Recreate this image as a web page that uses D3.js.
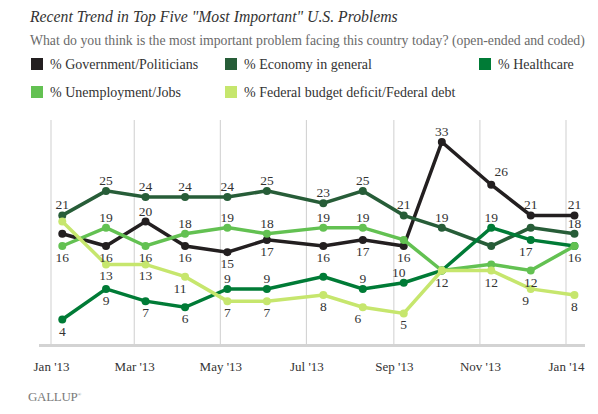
<!DOCTYPE html>
<html>
<head>
<meta charset="utf-8">
<script src="https://cdn.jsdelivr.net/npm/d3@7"></script>
<style>
  html, body { margin: 0; padding: 0; background: #fff; }
  svg { display: block; }
  svg text { font-family: "Liberation Serif", "DejaVu Serif", serif; }
</style>
</head>
<body>
<svg id="chart" width="598" height="414"></svg>
<script>
// ---------- data ----------
const pollDates = ["2013-01-09","2013-02-09","2013-03-09","2013-04-06","2013-05-06","2013-06-03","2013-07-13","2013-08-10","2013-09-08","2013-10-05","2013-11-09","2013-12-07","2014-01-07"];
const seriesNames = ["% Government/Politicians","% Economy in general","% Healthcare","% Unemployment/Jobs","% Federal budget deficit/Federal debt"];
const government   = [18,16,20,16,15,17,16,17,16,33,26,21,21];
const economy      = [21,25,24,24,24,25,23,25,21,19,16,19,18];
const healthcare   = [4,9,7,6,9,9,11,9,10,12,19,17,16];
const unemployment = [16,19,16,18,19,18,19,19,17,12,13,12,16];
const deficit      = [20,13,13,11,7,7,8,6,5,12,12,9,8];
// label placement codes: a = above, b = below, ar = above-right, al/bl = left-shifted, "" = none
const govLabels    = ["","b","a","b","b","b","b","b","b","a","ar","a","a"];
const econLabels   = ["a","a","a","a","a","a","a","a","a","a","","","a"];
const healthLabels = ["b","b","b","b","a","a","","a","al","","a","bl",""];
const unempLabels  = ["b","a","b","a","a","a","a","a","","","","b","b"];
const deficitLabels= ["","b","b","bl","b","b","b","bl","b","b","b","bl","b"];
const colors = ["#231f20","#275d38","#007b36","#63c152","#c6e66d"];
const title = 'Recent Trend in Top Five "Most Important" U.S. Problems';
const subtitle = "What do you think is the most important problem facing this country today? (open-ended and coded)";

// ---------- setup ----------
const FONT = "'Liberation Serif', 'DejaVu Serif', serif";
const parse = d3.timeParse("%Y-%m-%d");
const dates = pollDates.map(parse);
const series = [
  {name: seriesNames[0], values: government,   labels: govLabels,    color: colors[0]},
  {name: seriesNames[1], values: economy,      labels: econLabels,   color: colors[1]},
  {name: seriesNames[2], values: healthcare,   labels: healthLabels, color: colors[2]},
  {name: seriesNames[3], values: unemployment, labels: unempLabels,  color: colors[3]},
  {name: seriesNames[4], values: deficit,      labels: deficitLabels,color: colors[4]}
];

const svg = d3.select("#chart");
const x = d3.scaleTime().domain([new Date(2013,0,1), new Date(2014,0,1)]).range([51, 566]);
const y = d3.scaleLinear().domain([0, 36]).range([344, 123.5]);

function fitText(sel, target) {
  const node = sel.node();
  let fs = parseFloat(sel.attr("font-size"));
  const w = node.getComputedTextLength();
  if (w > 0) sel.attr("font-size", (fs * target / w).toFixed(2));
}

// title & subtitle
const t = svg.append("text").attr("x", 30).attr("y", 22).attr("font-size", 16)
  .attr("font-family", FONT).attr("font-style", "italic").attr("fill", "#333").text(title);
fitText(t, 368);
const st = svg.append("text").attr("x", 30).attr("y", 45).attr("font-size", 13)
  .attr("font-family", FONT).attr("fill", "#6a6a6a").text(subtitle);
fitText(st, 555);

// legend
const legPos = [[31,64],[225,64],[479,64],[31,92],[225,92]];
series.forEach((s, i) => {
  const g = svg.append("g").attr("transform", `translate(${legPos[i][0]},${legPos[i][1]})`);
  g.append("rect").attr("x", 0).attr("y", -6).attr("width", 12).attr("height", 12).attr("fill", s.color);
  g.append("text").attr("x", 19).attr("y", 4.5).attr("font-size", 14).attr("font-family", FONT)
    .attr("fill", "#333").text(s.name);
});

// gridlines
const ticks = x.ticks(d3.timeMonth.every(2));
svg.append("g").selectAll("line").data(ticks).join("line")
  .attr("x1", d => x(d)).attr("x2", d => x(d))
  .attr("y1", 120).attr("y2", 344)
  .attr("stroke", "#cfcfcf").attr("stroke-width", 1);

// x axis
const xAxis = d3.axisBottom(x).tickValues(ticks).tickFormat(d3.timeFormat("%b '%y")).tickSize(0).tickPadding(17);
const ax = svg.append("g").attr("transform", "translate(0,345)").call(xAxis)
  .attr("font-family", FONT);
ax.select(".domain").remove();
ax.selectAll("text").attr("font-size", 13).attr("fill", "#333").attr("font-family", FONT);
svg.append("line").attr("x1", 39).attr("x2", 585).attr("y1", 345.5).attr("y2", 345.5)
  .attr("stroke", "#d3d3d3").attr("stroke-width", 3);

// lines
const line = d3.line().x((d, i) => x(dates[i])).y(d => y(d));
series.forEach(s => {
  svg.append("path").datum(s.values).attr("d", line)
    .attr("fill", "none").attr("stroke", s.color).attr("stroke-width", 3.5)
    .attr("stroke-linejoin", "miter");
  svg.append("g").selectAll("circle").data(s.values).join("circle")
    .attr("cx", (d, i) => x(dates[i])).attr("cy", d => y(d)).attr("r", 4)
    .attr("fill", s.color);
});

// data labels
const off = {a: [0, -6], b: [0, 16], ar: [10, -9], al: [-5, -6], bl: [-5, 16]};
series.forEach(s => {
  s.values.forEach((v, i) => {
    const code = s.labels[i];
    if (!code) return;
    svg.append("text")
      .attr("x", x(dates[i]) + off[code][0])
      .attr("y", y(v) + off[code][1])
      .attr("text-anchor", "middle").attr("font-size", 13.5).attr("font-family", FONT)
      .attr("fill", "#333").text(v);
  });
});

// logo
const logo = svg.append("text").attr("x", 28).attr("y", 401).attr("font-size", 13)
  .attr("font-family", FONT).attr("fill", "#7a7a7a").attr("letter-spacing", -0.3).text("GALLUP");
logo.append("tspan").attr("font-size", 5).attr("dy", -5).text("®");
</script>
</body>
</html>
